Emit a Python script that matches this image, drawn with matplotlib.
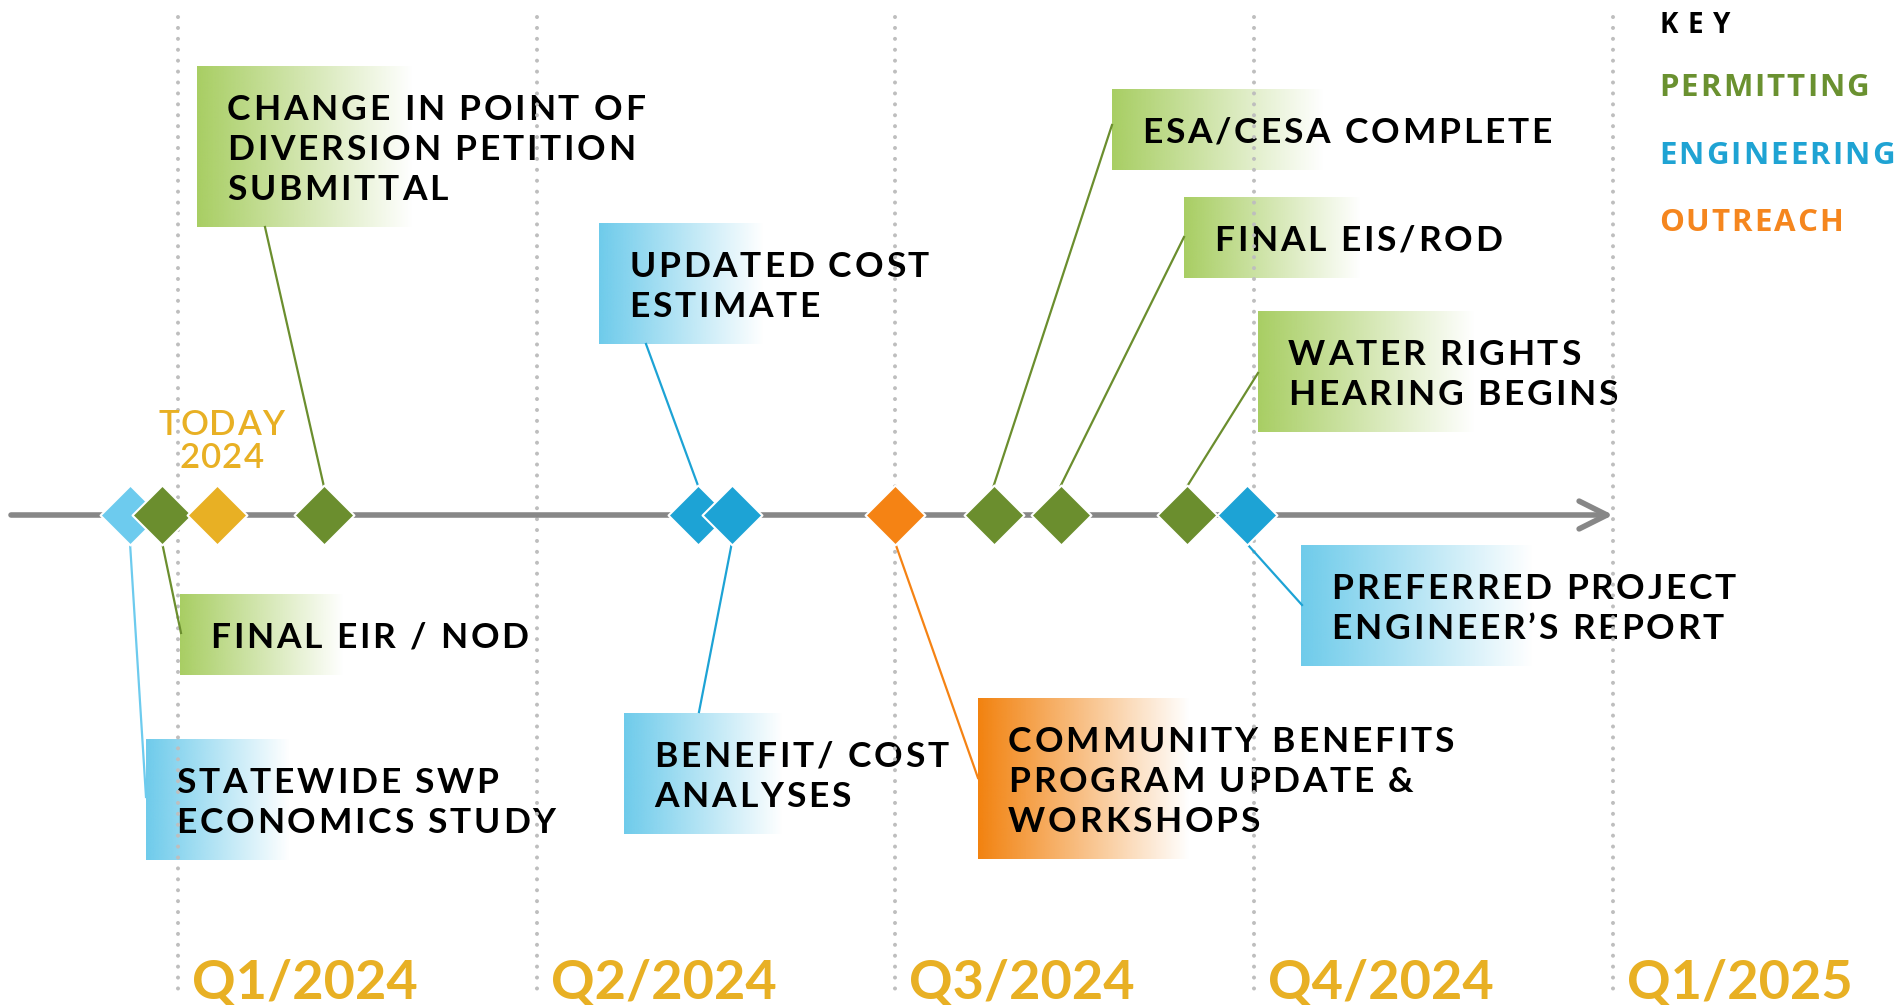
import numpy as np
import matplotlib
matplotlib.use("Agg")
import matplotlib.pyplot as plt
import matplotlib.colors as mcolors
import matplotlib.transforms as mtransforms
from matplotlib import font_manager
from matplotlib.font_manager import FontProperties
from matplotlib.ft2font import FT2Font

W, H, DPI = 1904, 1005, 100

# ---- data: milestones (months counted from 1 Jan 2024) ----
milestones = [
    "STATEWIDE SWP\nECONOMICS STUDY",
    "FINAL EIR / NOD",
    "CHANGE IN POINT OF\nDIVERSION PETITION\nSUBMITTAL",
    "UPDATED COST\nESTIMATE",
    "BENEFIT/ COST\nANALYSES",
    "COMMUNITY BENEFITS\nPROGRAM UPDATE &\nWORKSHOPS",
    "ESA/CESA COMPLETE",
    "FINAL EIS/ROD",
    "WATER RIGHTS\nHEARING BEGINS",
    "PREFERRED PROJECT\nENGINEER\u2019S REPORT",
]
months = [-0.40, -0.13, 1.22, 4.35, 4.63, 6.00, 6.82, 7.38, 8.44, 8.94]
category = ["engineering", "permitting", "permitting", "engineering", "engineering",
            "outreach", "permitting", "permitting", "permitting", "engineering"]

today_month = 0.33
today_lines = ["TODAY", "2024"]

quarter_labels = ["Q1/2024", "Q2/2024", "Q3/2024", "Q4/2024", "Q1/2025"]
quarter_months = [0, 3, 6, 9, 12]

key_title = "KEY"
key_labels = ["PERMITTING", "ENGINEERING", "OUTREACH"]
key_cats = ["permitting", "engineering", "outreach"]

# ---- styles ----
diamond_color = {"permitting": "#6B8E2E", "engineering": "#1DA3D5", "outreach": "#F58314"}
box_color = {"permitting": "#A8CE63", "engineering": "#6ECBEB", "outreach": "#F2820F"}
key_color = {"permitting": "#6A9130", "engineering": "#1FA3D3", "outreach": "#F5861E"}
TODAY_COLOR = "#E8B024"
GRID_COLOR = "#BEBEBE"
LINE_COLOR = "#878787"

# label layout in pixels from the top-left corner
layout = [
    dict(left=146, top=739, fade=144, anchor=(146, 797), tip="bottom", marker="#6DCBEE"),
    dict(left=180, top=594, fade=164, anchor=(181, 633), tip="bottom"),
    dict(left=197, top=66, fade=216, anchor=(265, 227), tip="top"),
    dict(left=599, top=223, fade=165, anchor=(646, 344), tip="top"),
    dict(left=624, top=713, fade=159, anchor=(699, 712), tip="bottom"),
    dict(left=978, top=698, fade=212, anchor=(978, 778), tip="bottom"),
    dict(left=1112, top=89, fade=212, anchor=(1112, 125), tip="top"),
    dict(left=1184, top=197, fade=177, anchor=(1184, 237), tip="top"),
    dict(left=1258, top=311, fade=217, anchor=(1258, 373), tip="top"),
    dict(left=1301, top=545, fade=232, anchor=(1302, 605), tip="bottom"),
]

X0 = 177.9      # pixel of month 0
PXM = 119.6     # pixels per month
TY = 515        # timeline height
LINE_H = 40
TEXT_PAD = 30
HALF_D = 29
MS = 30.5

def px2m(px):
    return (px - X0) / PXM

def m2px(m):
    return X0 + m * PXM

lato_b = FontProperties(family="Lato", weight="bold")
lato_s = FontProperties(family="Lato", weight="semibold")
open_b = FontProperties(family="Open Sans", weight="bold")

def tracked(ax, x_px, y_px, s, prop, size, tracking, color, ha="left", zorder=3):
    # draws a line of text with extra letter spacing (in pixels)
    font = FT2Font(font_manager.findfont(prop))
    font.set_size(size, DPI)
    adv = [font.load_char(ord(ch)).linearHoriAdvance / 65536 for ch in s]
    total = sum(adv) + tracking * (len(s) - 1)
    x = x_px - total / 2 if ha == "center" else x_px
    for ch, a in zip(s, adv):
        if ch != " ":
            ax.text(px2m(x), y_px, ch, fontproperties=prop, fontsize=size,
                    color=color, ha="left", va="baseline", zorder=zorder)
        x += a + tracking

def gradient_box(ax, left, top, width, height, color):
    img = np.ones((1, 256, 4))
    img[..., :3] = mcolors.to_rgb(color)
    img[..., 3] = np.linspace(1, 0, 256)
    ax.imshow(img, extent=(px2m(left), px2m(left + width), top + height, top),
              aspect="auto", interpolation="bilinear", zorder=1)

fig = plt.figure(figsize=(W / DPI, H / DPI), dpi=DPI)
ax = fig.add_axes([0, 0, 1, 1])
ax.axis("off")

# quarter gridlines
ax.vlines(quarter_months, 17, 992, colors=GRID_COLOR, linewidth=2.9,
          linestyles=[(0, (0.01, 2.7))], capstyle="round", zorder=3)
for qm, ql in zip(quarter_months, quarter_labels):
    ax.text(qm, 999, ql, fontproperties=lato_b, fontsize=39, color=TODAY_COLOR,
            ha="left", va="baseline",
            transform=mtransforms.offset_copy(ax.transData, fig=fig, x=14, y=0, units="dots"))

# timeline with open arrow head
ax.annotate("", xy=(quarter_months[-1], TY), xytext=(px2m(11), TY),
            arrowprops=dict(arrowstyle="->,head_length=1.0,head_width=0.5",
                            mutation_scale=20, color=LINE_COLOR, lw=4,
                            shrinkA=0, shrinkB=0, capstyle="round"),
            zorder=4)

# labels and connectors
for text, m, cat, lay in zip(milestones, months, category, layout):
    lines = text.split("\n")
    h = 41 + LINE_H * len(lines)
    gradient_box(ax, lay["left"], lay["top"], lay["fade"], h, box_color[cat])
    cy = lay["top"] + h / 2
    for i, ln in enumerate(lines):
        base = cy + (i - (len(lines) - 1) / 2) * LINE_H + 13
        tracked(ax, lay["left"] + TEXT_PAD, base, ln, lato_b, 25.5, 2.8, "#000000", zorder=2)
    col = lay.get("marker", diamond_color[cat])
    tip_y = TY - HALF_D if lay["tip"] == "top" else TY + HALF_D
    ax.plot([m, px2m(lay["anchor"][0])], [tip_y, lay["anchor"][1]], color=col,
            lw=1.6, zorder=4)

# diamonds, left to right so each overlaps the previous one
for m, cat, lay in zip(months, category, layout):
    col = lay.get("marker", diamond_color[cat])
    ax.scatter([m], [TY], s=MS ** 2, marker="D", color=col, edgecolors="white",
               linewidths=1.5, zorder=5)
ax.scatter([today_month], [TY], s=MS ** 2, marker="D", color=TODAY_COLOR,
           edgecolors="white", linewidths=1.5, zorder=5)

# today label
for i, ln in enumerate(today_lines):
    tracked(ax, m2px(today_month) + 4, 435 + 33 * i, ln, lato_s, 25, 1.2, TODAY_COLOR, ha="center")

# key
tracked(ax, 1659, 33, key_title, open_b, 20, 10, "#000000")
for i, (lbl, cat) in enumerate(zip(key_labels, key_cats)):
    tracked(ax, 1659, 96 + 67.5 * i, lbl, open_b, 22.5, 2.0, key_color[cat])

ax.set_xlim(px2m(0), px2m(W))
ax.set_ylim(H, 0)
fig.savefig("out.png", dpi=DPI, facecolor="white")
